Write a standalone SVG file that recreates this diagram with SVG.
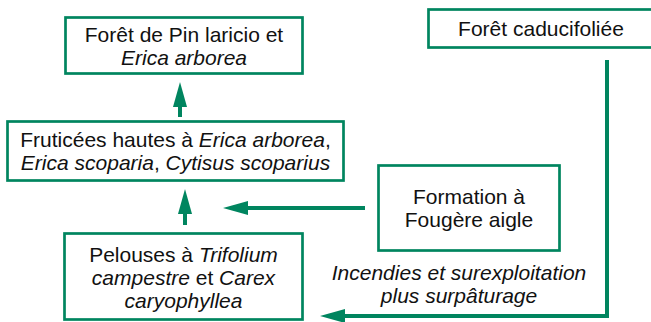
<svg xmlns="http://www.w3.org/2000/svg" width="651" height="322" viewBox="0 0 651 322">
<style>
.box{fill:#fff;stroke:#00855f;stroke-width:2.7}
.t{font-family:"Liberation Sans",Arial,Helvetica,sans-serif;font-size:21px;fill:#111;text-anchor:middle}
.i{font-style:italic}
.c{fill:none;stroke:#00855f;stroke-width:4}
</style>
<defs>
<marker id="ah" viewBox="0 0 25 14" markerWidth="25" markerHeight="14" refX="2" refY="7" orient="auto" markerUnits="userSpaceOnUse">
<path d="M0,0 L25,7 L0,14 Z" fill="#00855f"/>
</marker>
</defs>
<rect width="651" height="322" fill="#fff"/>
<g id="connectors">
<line class="c" x1="180" y1="117" x2="180" y2="105" marker-end="url(#ah)"/>
<line class="c" x1="185" y1="225" x2="185" y2="212" marker-end="url(#ah)"/>
<line class="c" x1="365" y1="208" x2="246" y2="208" marker-end="url(#ah)"/>
<path class="c" d="M607,60 V316 H343" marker-end="url(#ah)"/>
<text class="t i" x="459" y="280">Incendies et surexploitation</text>
<text class="t i" x="459" y="303">plus surpâturage</text>
</g>
<g id="pin">
<rect class="box" x="65.5" y="17.5" width="237" height="56"/>
<text class="t" x="184" y="42">Forêt de Pin laricio et</text>
<text class="t i" x="184" y="65">Erica arborea</text>
</g>
<g id="fruticees">
<rect class="box" x="7.5" y="121.5" width="336" height="59"/>
<text class="t" x="175.5" y="147">Fruticées hautes à <tspan class="i">Erica arborea</tspan>,</text>
<text class="t" x="175.5" y="170"><tspan class="i">Erica scoparia</tspan>, <tspan class="i">Cytisus scoparius</tspan></text>
</g>
<g id="pelouses">
<rect class="box" x="64.5" y="233.5" width="238" height="86"/>
<text class="t" x="183.5" y="261.5">Pelouses à <tspan class="i">Trifolium</tspan></text>
<text class="t" x="183.5" y="284.5"><tspan class="i">campestre</tspan> et <tspan class="i">Carex</tspan></text>
<text class="t i" x="183.5" y="307.5">caryophyllea</text>
</g>
<g id="fougere">
<rect class="box" x="378.5" y="165.5" width="181" height="85"/>
<text class="t" x="469" y="204">Formation à</text>
<text class="t" x="469" y="227">Fougère aigle</text>
</g>
<g id="caducifoliee">
<rect class="box" x="428.5" y="9.5" width="240" height="38"/>
<text class="t" x="541" y="36">Forêt caducifoliée</text>
</g>
</svg>
